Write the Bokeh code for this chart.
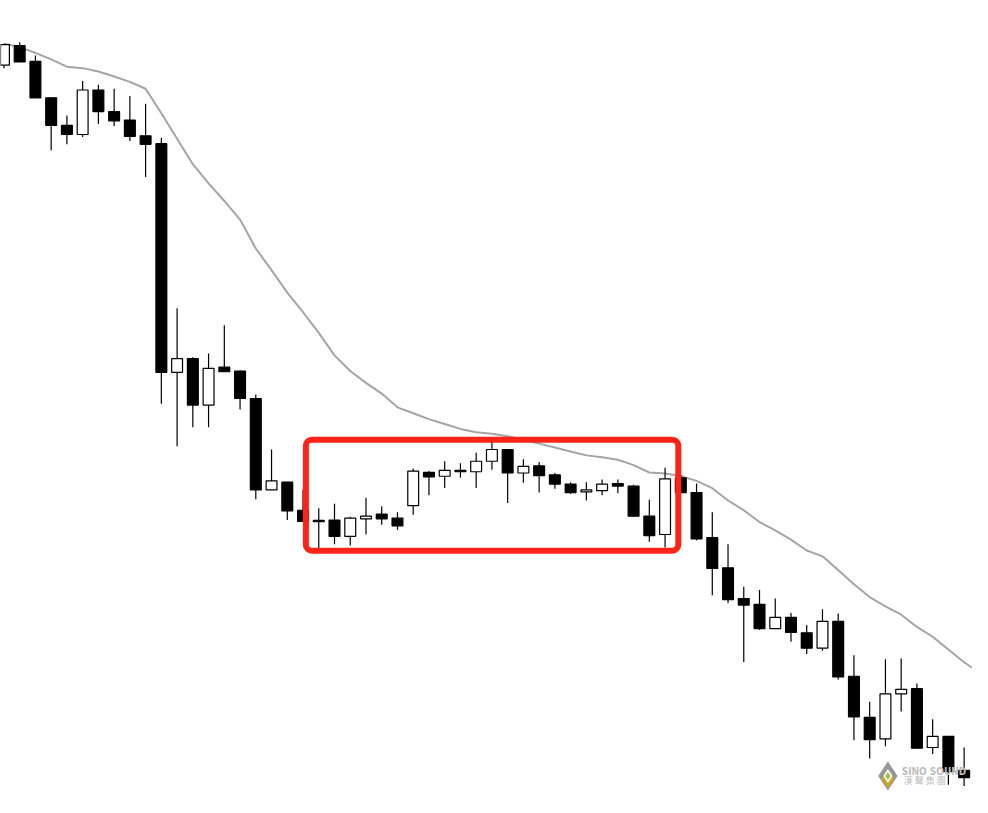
from bokeh.plotting import figure
from bokeh.models import Range1d, ColumnDataSource, BoxAnnotation
from bokeh.core.properties import value
from bokeh.embed import file_html
from bokeh.resources import INLINE

# ---- data (price units) ----
opens  = [747, 767, 751, 713.7, 685.7, 676.3, 721.7, 699.7, 691, 675,
          667, 433.7, 447.7, 400.3, 439, 435, 407, 313.7, 321.7, 293,
          282.7, 283, 266.3, 284.3, 289, 285, 297.7, 331.7, 327.7, 333.7,
          332.3, 343, 355, 331, 338.3, 329, 319.7, 311.7, 313, 320.3,
          317.7, 287, 268.3, 326, 311, 265, 234.3, 203, 197, 172.3,
          183.7, 168, 152.3, 179.7, 123.7, 81.7, 59.7, 105.7, 111, 51,
          62.3, 27.7]
highs  = [769, 770.3, 757, 713.7, 695.7, 731, 727, 723, 715.7, 707.7,
          673, 499, 449, 453, 481.7, 435.7, 411, 355, 321.7, 314.3,
          295, 299.7, 286.3, 305.7, 297, 291, 335.7, 333, 343, 341,
          351.7, 363, 355, 345, 342.3, 331, 321.7, 321.7, 324.3, 324.3,
          319, 303.7, 336.3, 329, 320.3, 291, 258.3, 215, 211.7, 203,
          188.3, 176, 192, 187.7, 145, 97.7, 141, 141.7, 116.3, 79.7,
          62.3, 51]
lows   = [744, 750.3, 713.7, 660.3, 666.3, 673.7, 687, 685, 669.7, 633,
          401.7, 358.3, 377.7, 377.7, 434.3, 395.7, 304.3, 313.7, 283, 281.7,
          253, 258.3, 257, 268.3, 278.3, 273, 288.3, 308.3, 315.7, 326.3,
          315.7, 334.3, 300.3, 321, 311, 315, 309.7, 303, 308.3, 310.3,
          286.3, 261, 255, 311, 262.3, 206.3, 198.3, 138.3, 171, 172.3,
          159, 146.3, 149.7, 120.3, 58.3, 39.7, 52.3, 87.7, 50.3, 44.3,
          13, 11.7]
closes = [768, 750.3, 713.7, 685.7, 676.3, 721.7, 699.7, 690.3, 674.3, 666.3,
          433.7, 447.7, 400.3, 437.7, 434.3, 407, 313.7, 323, 292.3, 281.7,
          281.3, 266.3, 285, 287, 284.3, 277, 333, 327, 333.7, 332.3,
          343, 355, 331, 337.7, 328.3, 319.7, 311, 313.7, 319.7, 317.7,
          287, 267, 325, 311, 263.7, 233.7, 201.7, 196.3, 172.3, 183.7,
          168.3, 152.3, 179.7, 123, 82.3, 59, 105.7, 110.3, 50.3, 62.3,
          26.3, 20.3]
moving_avg = [769, 765.5, 759.5, 753, 745.5, 744, 740.5, 735.5, 730, 723,
              698, 672, 646, 626.5, 608.5, 589.5, 560, 538, 515, 495,
              474, 451, 435, 423, 412, 398, 392, 386, 381, 376,
              372.5, 371, 368.5, 365, 361, 357, 353, 349, 347, 344.5,
              339, 331.5, 330.5, 328, 323, 315.5, 303, 293, 281, 272.5,
              263, 252, 246, 232, 217.5, 204.5, 195, 186.5, 174, 164,
              151, 138, 127]

# highlighted consolidation zone (bar index range, price range)
zone_start, zone_end = 19.18, 42.84
zone_low, zone_high = 251.7, 365.0

n = len(opens)
idx = list(range(n))
up = [c >= o for o, c in zip(opens, closes)]
src = ColumnDataSource(dict(
    x=idx,
    high=highs, low=lows,
    top=[max(o, c) for o, c in zip(opens, closes)],
    bottom=[min(o, c) for o, c in zip(opens, closes)],
    fill=["white" if u else "black" for u in up],
))

W, H = 972, 797
p = figure(width=W, height=H,
           x_range=Range1d(-0.21875, 61.53125), y_range=Range1d(0, 813),
           x_axis_type=None, y_axis_type=None,
           toolbar_location=None, output_backend="svg", min_border=0)
p.grid.visible = False
p.outline_line_color = None
p.background_fill_color = "white"
p.border_fill_color = "white"

# moving average
p.line(list(range(len(moving_avg))), moving_avg, line_color="#a4a4a4", line_width=2)

# candles
p.segment(x0="x", x1="x", y0="low", y1="high", source=src, line_color="black", line_width=1.2)
p.vbar(x="x", top="top", bottom="bottom", width=0.69, source=src,
       fill_color="fill", line_color="black", line_width=1.2)

# red highlight box
box = BoxAnnotation(left=zone_start, right=zone_end, bottom=zone_low, top=zone_high,
                    fill_alpha=0, line_color="#ff2318", line_width=6, line_alpha=1,
                    border_radius=6)
p.add_layout(box)

# watermark logo (positions given in pixels of the reference picture)
def px(x, y):
    return (x - 3.5) / 16.0, 813 - y

lx, ly = px(902, 791)
p.scatter([lx], [ly], marker="diamond", size=29, fill_color="#8c8c8c", line_color=None, alpha=0.9)
lx2, ly2 = px(902, 794)
p.scatter([lx2], [ly2], marker="diamond", size=19, fill_color="#d2a816", line_color=None, alpha=0.9)
p.scatter([lx], [ly], marker="diamond", size=14, fill_color="white", line_color=None)
p.scatter([lx], [ly], marker="diamond", size=8, fill_color="#9cc24a", line_color=None)

tx, ty = px(916, 786)
p.text([tx], [ty], text=["SINO SOUND"], text_font=value("DejaVu Sans Condensed"),
       text_font_size="10px", text_font_style="bold", text_color="#bdbdbd",
       text_baseline="middle", text_align="left")
tx2, ty2 = px(918, 796)
p.text([tx2], [ty2], text=["漢 聲 集 團"], text_font=value("Noto Sans CJK TC"),
       text_font_size="9px", text_color="#bdbdbd",
       text_baseline="middle", text_align="left")

open("out.html", "w").write(file_html(p, INLINE))
